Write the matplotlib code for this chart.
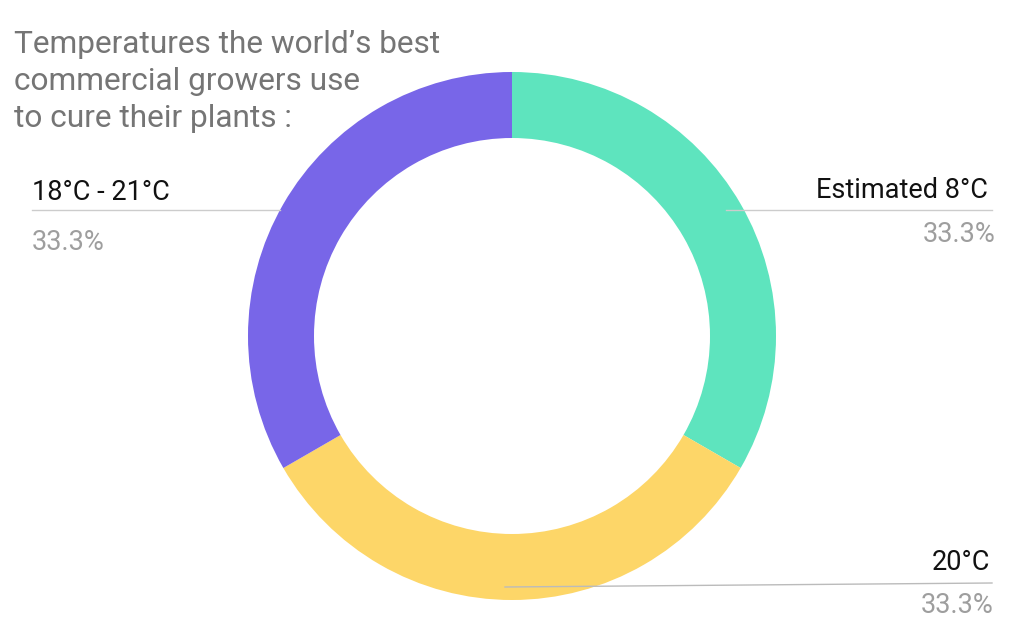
import numpy as np
import matplotlib.pyplot as plt

labels = ["Estimated 8°C", "20°C", "18°C - 21°C"]
shares = [33.3, 33.3, 33.3]
colors = ["#5ee4be", "#fdd668", "#7866e8"]
title_lines = ["Temperatures the world’s best", "commercial growers use", "to cure their plants :"]

W, H = 1024, 632
CX, CY = 512, 336
R_OUT, R_W = 264, 66

plt.rcParams["font.family"] = ["Roboto", "DejaVu Sans"]

fig = plt.figure(figsize=(W / 100, H / 100), dpi=100)
ax = fig.add_axes([0, 0, 1, 1])

# y axis is flipped below, so clockwise on screen = counterclock in data
ax.pie(shares, colors=colors, startangle=-90, counterclock=True,
       center=(CX, CY), radius=R_OUT,
       wedgeprops=dict(width=R_W, linewidth=0), frame=True)
ax.set_xlim(0, W)
ax.set_ylim(H, 0)
ax.set_aspect("equal")
ax.axis("off")


def ring_x(y, side, r=R_OUT):
    return CX + side * np.sqrt(r ** 2 - (y - CY) ** 2)


lab_size = 19.5
line_col = "#cccccc"
# right label (Estimated 8°C)
ax.plot([ring_x(210, 1, 248), 992], [210, 210], color=line_col, lw=1)
ax.text(988, 198, labels[0], ha="right", va="baseline", fontsize=lab_size, color="#111111")
ax.text(996, 242, f"{shares[0]}%", ha="right", va="baseline", fontsize=lab_size, color="#9e9e9e")

# bottom label (20°C)
ax.plot([505, 992], [587, 583], color="#bbbbbb", lw=1)
ax.text(990, 570, labels[1], ha="right", va="baseline", fontsize=lab_size, color="#111111")
ax.text(994, 613, f"{shares[1]}%", ha="right", va="baseline", fontsize=lab_size, color="#9e9e9e")

# left label (18°C - 21°C)
ax.plot([32, ring_x(210, -1)], [210, 210], color=line_col, lw=1)
ax.text(32, 200, labels[2], ha="left", va="baseline", fontsize=lab_size, color="#111111")
ax.text(32, 250, f"{shares[2]}%", ha="left", va="baseline", fontsize=lab_size, color="#9e9e9e")

for i, line in enumerate(title_lines):
    ax.text(14, 53 + i * 37, line, ha="left", va="baseline", fontsize=22.8, color="#757575")

fig.savefig("out.png", dpi=100)
